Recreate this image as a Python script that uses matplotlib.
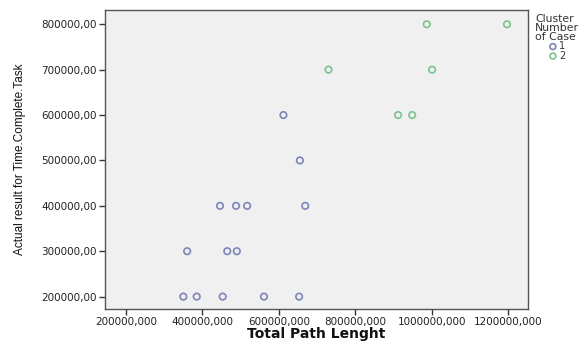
import matplotlib
matplotlib.use("Agg")
import matplotlib.pyplot as plt
from matplotlib.ticker import FuncFormatter

# Cluster 1 (blue)
c1_x = [350000, 385000, 453000, 561000, 653000,
        360000, 465000, 490000,
        446000, 488000, 517000, 669000,
        655000,
        612000]
c1_y = [200000, 200000, 200000, 200000, 200000,
        300000, 300000, 300000,
        400000, 400000, 400000, 400000,
        500000,
        600000]
# Cluster 2 (green)
c2_x = [912000, 949000, 730000, 1001000, 987000, 1197000]
c2_y = [600000, 600000, 700000, 700000, 800000, 800000]

cluster_labels = ["1", "2"]
x_ticks = [200000, 400000, 600000, 800000, 1000000, 1200000]
y_ticks = [200000, 300000, 400000, 500000, 600000, 700000, 800000]

fig = plt.figure(figsize=(5.87, 3.45), dpi=100)
ax = fig.add_axes([105/587, 1 - 309.3/345, (528 - 105)/587, (309.3 - 10)/345])
ax.set_facecolor("#f0f0f0")

blue = "#7c84b8"
green = "#78c48c"
ax.scatter(c1_x, c1_y, s=22, facecolors="none", edgecolors=blue, linewidths=1.2,
           label=cluster_labels[0], zorder=3)
ax.scatter(c2_x, c2_y, s=22, facecolors="none", edgecolors=green, linewidths=1.2,
           label=cluster_labels[1], zorder=3)

ax.set_xlim(145000, 1252000)
ax.set_ylim(172000, 831500)
ax.set_xticks(x_ticks)
ax.set_yticks(y_ticks)
ax.xaxis.set_major_formatter(FuncFormatter(lambda v, p: f"{int(v)},000"))
ax.yaxis.set_major_formatter(FuncFormatter(lambda v, p: f"{int(v)},00"))
ax.tick_params(axis="both", direction="out", length=4, width=1, color="#333333",
               labelsize=7.5, labelcolor="#222222", pad=2)
ax.tick_params(axis="x", pad=1.5)
for lbl in ax.get_xticklabels() + ax.get_yticklabels():
    lbl.set_family("DejaVu Sans")
for sp in ax.spines.values():
    sp.set_color("#555555")
    sp.set_linewidth(1)

ax.set_xlabel("Total Path Lenght", fontsize=10, fontweight="bold", family="DejaVu Sans",
              labelpad=0, color="#111111")
ax.set_ylabel("Actual result for Time.Complete.Task", fontsize=8.5,
              family=["Liberation Sans Narrow", "Liberation Sans"], labelpad=11,
              color="#111111")

leg = ax.legend(title="Cluster\nNumber\nof Case", loc="upper left",
                bbox_to_anchor=(535/587, 1 - 14/345), bbox_transform=fig.transFigure,
                frameon=False, fontsize=7, title_fontsize=7.8, handletextpad=0.2,
                handlelength=0.9, labelspacing=-0.05, borderpad=0, borderaxespad=0,
                markerscale=0.9)
for t in leg.get_texts():
    t.set_color("#333333")
leg.get_title().set_color("#333333")
leg.get_title().set_linespacing(0.85)

fig.savefig("out.png", dpi=100)
